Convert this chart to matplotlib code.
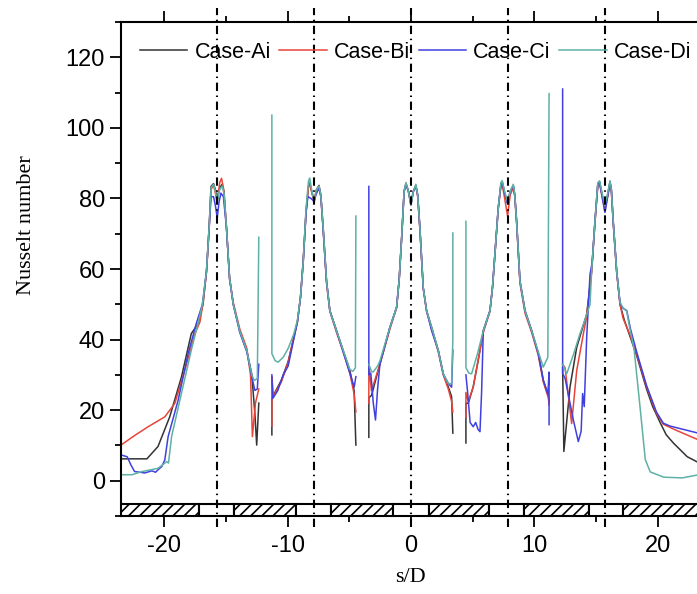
import matplotlib
matplotlib.use('Agg')
import matplotlib.pyplot as plt
from matplotlib.patches import Rectangle
import numpy as np

nan = np.nan

# Nusselt number along the wall, (s/D, Nu) pairs; (nan, nan) = break at a wall gap
case_ai = [
    (-23.5, 6.2), (-21.4, 6.2), (-20.5, 9.7), (-19.55, 18.1), (-18.6, 29.4), (-17.8, 41.7),
    (-17.25, 44.5), (-16.85, 50.0), (-16.57, 59.4), (-16.36, 71.6), (-16.2, 83.4), (-16.0, 84.2),
    (-15.85, 82.5), (-15.7, 80.0), (-15.5, 83.0), (-15.3, 84.0), (-15.15, 82.0), (-14.95, 71.6),
    (-14.7, 57.5), (-14.4, 50.0), (-13.87, 42.4), (-13.3, 36.8), (-12.9, 30.2), (-12.65, 19.1),
    (-12.5, 10.1), (-12.33, 22.0), (nan, nan),
    (-11.27, 13.0), (-11.27, 23.5), (-11.1, 24.5), (-10.5, 28.5), (-9.95, 33.8), (-9.5, 40.5),
    (-9.2, 45.0), (-8.95, 52.0), (-8.73, 62.0), (-8.5, 76.0), (-8.3, 83.5), (-8.2, 84.3),
    (-8.05, 82.0), (-7.85, 79.0), (-7.65, 82.5), (-7.45, 83.7), (-7.3, 81.0), (-7.11, 71.6),
    (-6.84, 56.6), (-6.57, 48.2), (-6.03, 42.5), (-5.49, 36.9), (-4.95, 31.3), (-4.6, 25.5),
    (-4.46, 10.1), (nan, nan),
    (-3.41, 12.3), (-3.41, 23.5), (-3.19, 24.2), (-2.51, 33.1), (-1.7, 43.5), (-1.16, 49.1),
    (-0.95, 57.0), (-0.75, 68.8), (-0.55, 82.0), (-0.4, 84.3), (-0.2, 82.0), (0.0, 78.2),
    (0.2, 82.0), (0.4, 83.7), (0.55, 81.0), (0.73, 71.6), (1.0, 54.7), (1.27, 48.2),
    (1.68, 43.5), (2.22, 36.9), (2.62, 30.3), (3.03, 26.6), (3.3, 23.8), (3.4, 13.5), (nan, nan),
    (4.46, 10.7), (4.46, 22.0), (4.65, 21.9), (5.05, 26.6), (5.5, 35.0), (5.87, 42.5),
    (6.41, 48.2), (6.62, 55.0), (6.81, 64.1), (7.08, 77.3), (7.3, 84.0), (7.4, 84.8),
    (7.6, 81.5), (7.84, 78.6), (8.05, 82.0), (8.3, 83.7), (8.42, 81.0), (8.57, 73.5),
    (8.84, 56.6), (9.25, 48.2), (9.79, 42.5), (10.33, 36.0), (10.73, 28.5), (11.14, 24.2),
    (11.2, 22.5), (nan, nan),
    (12.3, 32.0), (12.4, 8.3), (12.9, 26.6), (13.44, 37.8), (14.25, 47.2), (14.65, 59.4),
    (14.92, 73.5), (15.15, 84.0), (15.3, 84.6), (15.5, 81.0), (15.73, 77.0), (15.95, 81.0),
    (16.14, 84.8), (16.25, 82.5), (16.4, 73.5), (16.68, 59.4), (16.95, 50.0), (17.3, 45.5),
    (17.8, 40.5), (18.3, 35.5), (19.1, 26.0), (19.6, 21.0), (20.2, 16.5), (20.7, 13.0),
    (21.3, 10.6), (22.4, 6.8), (23.5, 4.8),
]

case_bi = [
    (-23.5, 10.1), (-22.4, 12.8), (-21.3, 15.3), (-19.95, 18.1), (-19.14, 21.9), (-18.33, 31.3),
    (-17.5, 41.7), (-17.1, 45.0), (-16.85, 50.5), (-16.57, 59.0), (-16.36, 71.0), (-16.2, 82.5),
    (-16.0, 83.8), (-15.85, 81.5), (-15.7, 78.5), (-15.5, 84.5), (-15.35, 85.7), (-15.2, 83.0),
    (-14.95, 72.0), (-14.7, 57.0), (-14.4, 50.5), (-13.87, 43.0), (-13.3, 37.5), (-13.0, 30.0),
    (-12.85, 12.5), (-12.6, 22.0), (-12.33, 26.0), (nan, nan),
    (-11.27, 15.5), (-11.27, 29.5), (-11.15, 24.0), (-10.5, 28.0), (-9.95, 33.5), (-9.5, 40.5),
    (-9.2, 45.0), (-8.95, 52.0), (-8.73, 62.5), (-8.5, 76.5), (-8.3, 83.5), (-8.2, 84.5),
    (-8.05, 82.0), (-7.85, 79.5), (-7.65, 82.5), (-7.45, 83.5), (-7.3, 80.5), (-7.11, 71.0),
    (-6.84, 56.0), (-6.57, 48.0), (-6.03, 42.0), (-5.49, 36.5), (-4.95, 30.5), (-4.6, 24.5),
    (-4.46, 19.5), (nan, nan),
    (-3.41, 22.0), (-3.41, 33.0), (-3.2, 25.5), (-2.51, 33.0), (-1.7, 43.0), (-1.16, 49.0),
    (-0.95, 57.0), (-0.75, 69.0), (-0.55, 82.0), (-0.4, 84.0), (-0.2, 82.0), (0.0, 78.5),
    (0.2, 82.0), (0.4, 83.5), (0.55, 80.5), (0.73, 71.0), (1.0, 54.5), (1.27, 48.0),
    (1.68, 43.0), (2.22, 36.5), (2.62, 30.0), (3.03, 26.0), (3.3, 22.5), (3.4, 19.5), (nan, nan),
    (4.46, 18.0), (4.46, 25.0), (4.65, 22.5), (5.05, 26.5), (5.5, 35.0), (5.87, 42.0),
    (6.41, 48.0), (6.62, 55.0), (6.81, 64.0), (7.08, 77.0), (7.3, 83.5), (7.4, 84.0),
    (7.6, 80.0), (7.84, 75.0), (8.05, 81.0), (8.3, 83.0), (8.42, 80.5), (8.57, 73.0),
    (8.84, 56.0), (9.25, 47.5), (9.79, 42.0), (10.33, 35.5), (10.73, 28.0), (11.14, 23.5),
    (11.2, 21.5), (nan, nan),
    (12.3, 33.0), (12.5, 32.0), (13.03, 16.2), (13.44, 31.2), (14.0, 42.0), (14.25, 46.5),
    (14.65, 59.0), (14.92, 73.0), (15.15, 83.5), (15.3, 84.0), (15.5, 80.5), (15.73, 76.5),
    (15.95, 80.5), (16.14, 84.0), (16.25, 82.0), (16.4, 73.0), (16.68, 59.0), (16.95, 50.0),
    (17.2, 46.0), (17.8, 41.0), (18.3, 36.0), (19.1, 26.6), (19.9, 19.1), (20.46, 16.0),
    (21.5, 14.3), (22.5, 12.8), (23.5, 11.3),
]

case_ci = [
    (-23.5, 7.3), (-23.0, 6.8), (-22.7, 4.5), (-22.4, 2.6), (-21.57, 2.2), (-21.0, 2.8),
    (-20.7, 2.4), (-20.5, 3.1), (-20.2, 4.0), (-19.95, 5.9), (-19.68, 12.5), (-18.87, 22.8),
    (-18.06, 36.0), (-17.4, 44.5), (-16.9, 50.0), (-16.57, 59.4), (-16.36, 71.6), (-16.2, 80.5),
    (-16.0, 80.5), (-15.85, 78.0), (-15.7, 74.5), (-15.55, 79.0), (-15.4, 81.5), (-15.2, 80.5),
    (-14.95, 71.6), (-14.7, 57.5), (-14.4, 50.0), (-13.87, 42.0), (-13.3, 36.5), (-12.9, 29.5),
    (-12.65, 25.6), (-12.45, 26.0), (-12.33, 33.0), (nan, nan),
    (-11.27, 30.0), (-11.2, 23.3), (-10.8, 25.5), (-10.35, 30.0), (-9.95, 32.5), (-9.5, 40.0),
    (-9.2, 45.0), (-8.95, 52.0), (-8.73, 62.0), (-8.5, 76.0), (-8.35, 80.5), (-8.1, 80.0),
    (-7.95, 79.5), (-7.85, 79.0), (-7.7, 81.0), (-7.45, 83.0), (-7.3, 80.5), (-7.11, 71.0),
    (-6.84, 56.6), (-6.57, 48.2), (-6.03, 42.5), (-5.49, 36.5), (-4.95, 30.5), (-4.6, 26.5),
    (-4.46, 29.5), (nan, nan),
    (-3.41, 83.4), (-3.41, 30.0), (-3.25, 30.5), (-3.05, 22.0), (-2.87, 17.2), (-2.7, 26.0),
    (-2.51, 33.1), (-1.7, 43.5), (-1.16, 49.1), (-0.95, 57.0), (-0.75, 68.8), (-0.55, 82.0),
    (-0.4, 84.0), (-0.2, 82.0), (0.0, 78.5), (0.2, 82.0), (0.4, 83.5), (0.55, 81.0),
    (0.73, 71.6), (1.0, 54.7), (1.27, 48.2), (1.68, 42.5), (2.22, 36.9), (2.62, 30.3),
    (3.03, 27.6), (3.3, 26.5), (3.4, 37.0), (nan, nan),
    (4.46, 30.0), (4.6, 25.0), (4.8, 16.5), (5.05, 15.3), (5.25, 16.5), (5.45, 14.5),
    (5.6, 13.9), (5.73, 25.0), (5.87, 42.5), (6.41, 48.2), (6.62, 55.0), (6.81, 64.1),
    (7.08, 77.3), (7.3, 84.0), (7.4, 84.5), (7.6, 81.5), (7.84, 78.5), (8.05, 82.0),
    (8.3, 83.5), (8.42, 81.0), (8.57, 73.5), (8.84, 56.6), (9.25, 48.2), (9.79, 42.5),
    (10.33, 36.0), (10.73, 28.5), (11.1, 24.5), (11.2, 30.8), (11.2, 15.9), (nan, nan),
    (12.3, 111.0), (12.3, 30.4), (12.5, 29.0), (13.17, 17.2), (13.57, 11.1), (13.8, 14.0),
    (13.92, 24.7), (14.05, 21.0), (14.25, 40.6), (14.52, 58.5), (14.7, 62.0), (14.92, 73.5),
    (15.15, 84.0), (15.3, 84.6), (15.5, 80.5), (15.73, 76.0), (15.95, 80.5), (16.14, 84.5),
    (16.25, 82.5), (16.4, 73.5), (16.68, 59.4), (16.95, 50.5), (17.15, 49.0), (17.5, 48.2),
    (17.8, 43.0), (18.3, 36.5), (19.1, 27.0), (19.9, 19.5), (20.46, 16.3), (21.0, 15.5),
    (21.8, 14.8), (23.5, 13.3),
]

case_di = [
    (-23.5, 1.7), (-22.6, 1.7), (-21.8, 2.6), (-20.5, 3.5), (-19.8, 5.4), (-19.65, 5.0),
    (-19.4, 12.5), (-18.6, 24.7), (-17.8, 37.0), (-17.3, 44.0), (-16.9, 50.0), (-16.57, 59.4),
    (-16.36, 71.6), (-16.2, 83.0), (-16.0, 84.0), (-15.85, 82.0), (-15.7, 79.0), (-15.5, 82.5),
    (-15.3, 83.5), (-15.15, 81.5), (-14.95, 71.6), (-14.7, 57.5), (-14.4, 50.0), (-13.87, 42.4),
    (-13.3, 36.8), (-12.9, 30.0), (-12.7, 28.4), (-12.45, 29.0), (-12.33, 69.0), (nan, nan),
    (-11.27, 103.6), (-11.27, 36.0), (-11.0, 34.0), (-10.76, 33.6), (-10.35, 35.0), (-9.95, 37.5),
    (-9.5, 41.5), (-9.2, 45.5), (-8.95, 52.0), (-8.73, 62.0), (-8.5, 77.0), (-8.3, 85.0),
    (-8.2, 85.8), (-8.05, 82.5), (-7.85, 79.5), (-7.65, 82.5), (-7.45, 83.5), (-7.3, 81.0),
    (-7.11, 71.6), (-6.84, 56.6), (-6.57, 48.2), (-6.03, 42.5), (-5.49, 37.0), (-4.95, 31.5),
    (-4.7, 31.0), (-4.5, 32.0), (-4.46, 75.0), (nan, nan),
    (-3.41, 33.0), (-3.2, 31.0), (-3.06, 30.8), (-2.7, 32.5), (-2.51, 34.0), (-1.7, 43.5),
    (-1.16, 49.1), (-0.95, 57.0), (-0.75, 68.8), (-0.55, 82.0), (-0.4, 84.5), (-0.2, 82.0),
    (0.0, 78.0), (0.2, 82.0), (0.4, 84.0), (0.55, 81.0), (0.73, 71.6), (1.0, 54.7),
    (1.27, 48.2), (1.68, 43.5), (2.22, 36.9), (2.62, 30.3), (3.03, 27.5), (3.3, 27.5),
    (3.4, 40.0), (3.4, 70.2), (nan, nan),
    (4.46, 73.5), (4.46, 32.0), (4.7, 30.5), (4.92, 30.3), (5.4, 36.0), (5.87, 42.5),
    (6.41, 48.2), (6.62, 55.0), (6.81, 64.1), (7.08, 77.3), (7.3, 84.5), (7.4, 85.0),
    (7.6, 82.0), (7.84, 79.0), (8.05, 82.0), (8.3, 84.0), (8.42, 81.0), (8.57, 73.5),
    (8.84, 56.6), (9.25, 48.2), (9.79, 42.5), (10.33, 36.5), (10.73, 32.2), (11.1, 35.0),
    (11.2, 109.7), (nan, nan),
    (12.3, 33.0), (12.63, 30.3), (13.2, 36.0), (13.7, 41.6), (14.25, 47.0), (14.52, 50.0),
    (14.65, 59.4), (14.92, 73.5), (15.15, 84.5), (15.3, 85.0), (15.5, 81.5), (15.73, 78.0),
    (15.95, 81.5), (16.14, 85.0), (16.25, 82.5), (16.4, 73.5), (16.68, 59.4), (16.95, 50.5),
    (17.2, 49.0), (17.5, 48.0), (17.7, 44.0), (18.1, 37.0), (18.6, 20.0), (19.0, 6.0),
    (19.4, 2.5), (20.5, 1.0), (22.0, 0.8), (23.5, 1.8),
]

labels = ['Case-Ai', 'Case-Bi', 'Case-Ci', 'Case-Di']
colors = ['#333333', '#e8453a', '#4040e0', '#5fb0a6']

# jet centre lines and the plate strip under the axis (white = jet slot)
jet_pos = [-15.7, -7.85, 0, 7.85, 15.7]
slot_edges = [(-17.2, -14.3), (-9.3, -6.5), (-1.45, 1.45), (6.35, 9.2), (14.4, 17.2)]

plt.rcParams['axes.unicode_minus'] = False
plt.rcParams['hatch.linewidth'] = 1.2

fig = plt.figure(figsize=(6.97, 5.94), dpi=100)
ax = fig.add_axes([121 / 697, 1 - 516 / 594, 579.8 / 697, 494 / 594])

for data, lab, col in zip([case_ai, case_bi, case_ci, case_di], labels, colors):
    arr = np.array(data, dtype=float)
    ax.plot(arr[:, 0], arr[:, 1], color=col, lw=1.1, label=lab)

x_lo, x_hi = -23.5, 23.5
y_lo, y_hi = -9.9, 129.3
ax.set_xlim(x_lo, x_hi)
ax.set_ylim(y_lo, y_hi)

# plate strip
strip_top = -6.5
prev = x_lo
for a, b in slot_edges:
    ax.add_patch(Rectangle((prev, y_lo), a - prev, strip_top - y_lo, facecolor='white',
                           edgecolor='black', hatch='///', lw=1.5, zorder=3))
    ax.add_patch(Rectangle((a, y_lo), b - a, strip_top - y_lo, facecolor='white',
                           edgecolor='black', lw=1.5, zorder=3))
    prev = b
ax.add_patch(Rectangle((prev, y_lo), x_hi - prev, strip_top - y_lo, facecolor='white',
                       edgecolor='black', hatch='///', lw=1.5, zorder=3))

for xj in jet_pos:
    ax.plot([xj, xj], [-13.2, 134], color='black', lw=1.5,
            linestyle=(0, (4, 2.2, 0.7, 2.2)), clip_on=False, zorder=4)

ax.set_xticks([-20, -10, 0, 10, 20])
ax.set_xticks([-15, -5, 5, 15], minor=True)
ax.set_yticks([0, 20, 40, 60, 80, 100, 120])
ax.set_yticks([-10, 10, 30, 50, 70, 90, 110, 130], minor=True)
ax.tick_params(which='both', direction='out', top=True, right=True, width=1.3)
ax.tick_params(which='major', length=8)
ax.tick_params(which='minor', length=4.5)
for t in ax.get_xticklabels() + ax.get_yticklabels():
    t.set_fontfamily('Liberation Sans')
    t.set_fontsize(17)
ax.tick_params(axis='x', pad=6)
for sp in ax.spines.values():
    sp.set_linewidth(1.5)

fig.text(27 / 697, 1 - 225 / 594, 'Nusselt number', rotation=90, ha='center', va='center',
         family='Liberation Serif', fontsize=16)
fig.text(410 / 697, 1 - 578 / 594, 's/D', ha='center', va='center',
         family='Liberation Serif', fontsize=16)

ax.legend(ncol=4, loc='center left', bbox_to_anchor=(140 / 697, 1 - 52 / 594),
          bbox_transform=fig.transFigure, frameon=False,
          prop={'family': 'Liberation Sans', 'size': 15.5},
          handlelength=2.2, handletextpad=0.33, columnspacing=0.4,
          borderpad=0, borderaxespad=0)

fig.savefig('out.png', dpi=100)
